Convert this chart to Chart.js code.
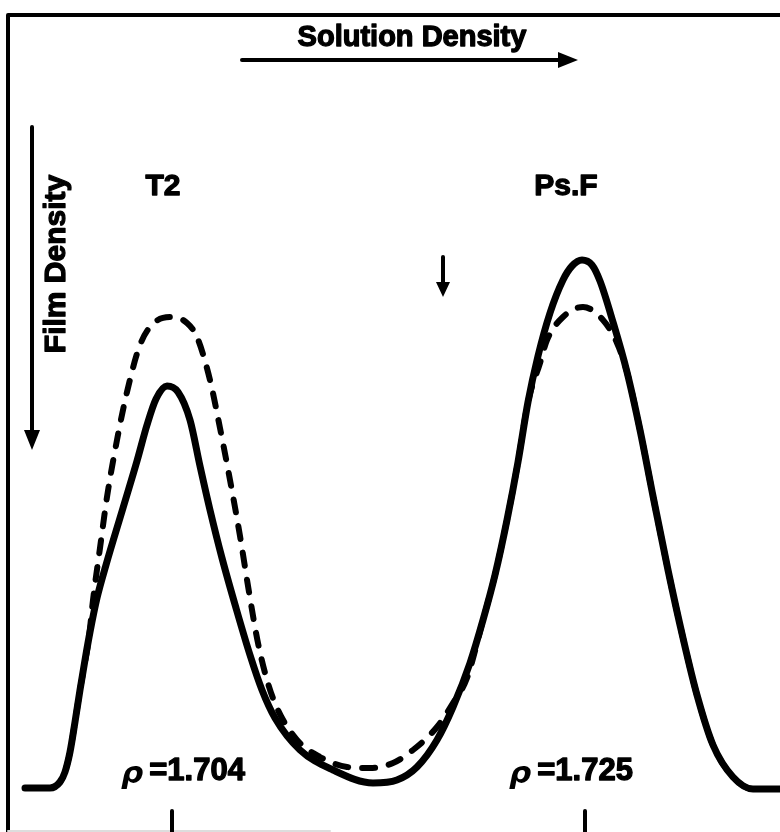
<!DOCTYPE html>
<html lang="en">

<head>
    <meta charset="UTF-8">
    <title>Solution Density / Film Density</title>
    <script src="https://cdn.jsdelivr.net/npm/chart.js"></script>
    <style>
        body {
            margin: 0;
            background-color: #ffffff;
        }

        .chart-box {
            width: 780px;
            height: 832px;
        }
    </style>
</head>

<body>
    <div class="chart-box">
        <canvas id="scanChart" width="780" height="832"></canvas>
    </div>

    <script>
        // Position along the tube (arbitrary units) and film density (arbitrary units)
        const solidPos = [1.7, 4.2, 5.2, 5.7, 6.2, 6.7, 7.2, 7.7, 8.2, 8.9, 9.8, 11.5, 12.9, 13.9, 14.8, 15.9, 17.0,
            18.2, 19.2, 20.2, 21.4, 22.8, 24.2, 25.4, 26.7, 29.2, 32.5, 36.5, 38.9, 40.9, 42.9, 44.5, 46.2, 47.5,
            48.7, 49.9, 51.0, 52.0, 53.0, 54.2, 55.5, 56.4, 57.4, 58.4, 59.2, 60.5, 61.9, 63.2, 64.5, 66.0, 67.5,
            68.9, 70.5, 72.5, 74.5, 78.2];
        const solidDen = [0.01, 0.01, 0.07, 0.17, 0.37, 0.67, 0.99, 1.29, 1.57, 1.91, 2.24, 2.81, 3.28, 3.64, 3.90,
            4.03, 3.97, 3.69, 3.23, 2.79, 2.31, 1.81, 1.34, 0.99, 0.71, 0.39, 0.19, 0.06, 0.09, 0.22, 0.49, 0.82,
            1.26, 1.69, 2.14, 2.69, 3.27, 3.87, 4.33, 4.76, 5.09, 5.23, 5.29, 5.24, 5.08, 4.67, 4.17, 3.59, 2.93,
            2.19, 1.51, 0.94, 0.44, 0.12, 0.00, 0.00];

        const dashPos = [1.7, 4.2, 5.2, 5.7, 6.2, 6.7, 7.2, 7.7, 8.1, 8.5, 9.2, 9.9, 10.9, 11.9, 13.2, 14.7, 16.5,
            17.9, 18.9, 20.2, 21.2, 22.2, 23.2, 24.1, 25.0, 25.9, 26.9, 28.9, 31.2, 33.9, 36.2, 38.5, 40.5, 42.9,
            44.5, 45.9, 47.5, 48.7, 49.9, 51.0, 52.0, 53.2, 53.9, 55.5, 57.5, 59.5, 60.9, 61.9, 63.2, 64.5, 66.0,
            67.5, 68.9, 70.5, 72.5, 74.5, 78.2];
        const dashDen = [0.01, 0.01, 0.07, 0.17, 0.37, 0.67, 0.99, 1.27, 1.52, 1.89, 2.41, 2.92, 3.49, 3.97, 4.44,
            4.67, 4.72, 4.66, 4.52, 4.09, 3.61, 3.09, 2.53, 1.97, 1.46, 1.09, 0.81, 0.49, 0.32, 0.22, 0.21, 0.26,
            0.39, 0.62, 0.86, 1.11, 1.69, 2.14, 2.69, 3.27, 3.87, 4.26, 4.49, 4.72, 4.82, 4.69, 4.46, 4.17, 3.59,
            2.93, 2.19, 1.51, 0.94, 0.44, 0.12, 0.00, 0.00];

        const peakNames = ['T2', 'Ps.F'];
        const peakNamePos = [15.5, 55.8];
        const rhoLabels = ['=1.704', '=1.725'];
        const rhoPos = [17.5, 56.3];
        const markerPos = [16.4, 57.7];

        const toPoints = (xs, ys) => xs.map((x, i) => ({ x: x, y: ys[i] }));

        const ink = '#000000';

        // bold lettering of the original is heavier than the installed bold
        const heavyText = (ctx, text, x, y) => {
            ctx.lineWidth = 1.3;
            ctx.strokeText(text, x, y);
            ctx.fillText(text, x, y);
        };

        // frame, arrows, labels and density markers
        const figureDecor = {
            id: 'figureDecor',
            afterDraw(chart) {
                const ctx = chart.ctx;
                const area = chart.chartArea;
                const xs = chart.scales.x;
                const ys = chart.scales.y;
                const px = v => xs.getPixelForValue(v);
                const py = v => ys.getPixelForValue(v);

                ctx.save();
                ctx.strokeStyle = ink;
                ctx.fillStyle = ink;
                ctx.lineCap = 'round';
                ctx.lineJoin = 'round';

                // frame
                ctx.lineWidth = 4;
                ctx.beginPath();
                ctx.moveTo(area.left, 832);
                ctx.lineTo(area.left, area.top);
                ctx.lineTo(780, area.top);
                ctx.stroke();
                ctx.strokeStyle = '#dddddd';
                ctx.lineWidth = 2;
                ctx.beginPath();
                ctx.moveTo(area.left, 831);
                ctx.lineTo(330, 831);
                ctx.stroke();
                ctx.strokeStyle = ink;

                const arrowHead = (x, y, dx, dy, len, half) => {
                    ctx.beginPath();
                    ctx.moveTo(x, y);
                    ctx.lineTo(x - dx * len - dy * half, y - dy * len + dx * half);
                    ctx.lineTo(x - dx * len + dy * half, y - dy * len - dx * half);
                    ctx.closePath();
                    ctx.fill();
                };

                // Solution Density arrow
                ctx.lineWidth = 4;
                const ay = py(7.29);
                ctx.beginPath();
                ctx.moveTo(px(23.4), ay);
                ctx.lineTo(px(55.4), ay);
                ctx.stroke();
                arrowHead(px(57.0), ay, 1, 0, 20, 8);

                // Film Density arrow
                const ax = px(2.4);
                ctx.beginPath();
                ctx.moveTo(ax, py(6.62));
                ctx.lineTo(ax, py(3.55));
                ctx.stroke();
                arrowHead(ax, py(3.39), 0, 1, 20, 8);

                // small arrow between the peaks
                const sx = px(43.5);
                ctx.beginPath();
                ctx.moveTo(sx, py(5.32));
                ctx.lineTo(sx, py(5.05));
                ctx.stroke();
                arrowHead(sx, py(4.92), 0, 1, 15, 7);

                // density markers at the bottom
                markerPos.forEach(m => {
                    ctx.beginPath();
                    ctx.moveTo(px(m), py(-0.22));
                    ctx.lineTo(px(m), 834);
                    ctx.stroke();
                });

                // texts
                ctx.textAlign = 'center';
                ctx.textBaseline = 'middle';
                ctx.font = 'bold 29px "Liberation Sans", Arial, sans-serif';
                heavyText(ctx, 'Solution Density', px(40.4), py(7.51));

                peakNames.forEach((name, i) => {
                    ctx.font = 'bold 30px "Liberation Sans", Arial, sans-serif';
                    heavyText(ctx, name, px(peakNamePos[i]), py(6.02));
                });

                ctx.save();
                ctx.translate(px(4.9), py(5.25));
                ctx.rotate(-Math.PI / 2);
                ctx.font = 'bold 30px "Liberation Sans", Arial, sans-serif';
                heavyText(ctx, 'Film Density', 0, 0);
                ctx.restore();

                rhoLabels.forEach((lab, i) => {
                    const cx = px(rhoPos[i]);
                    const cy = py(0.18);
                    ctx.font = 'bold 31px "Liberation Sans", Arial, sans-serif';
                    const w = ctx.measureText(lab).width;
                    ctx.font = 'italic bold 31px "DejaVu Sans", sans-serif';
                    const rw = ctx.measureText('ρ').width;
                    const left = cx - (w + rw + 6) / 2;
                    ctx.textAlign = 'left';
                    ctx.fillText('ρ', left, cy + 4);
                    ctx.font = 'bold 31px "Liberation Sans", Arial, sans-serif';
                    heavyText(ctx, lab, left + rw + 6, cy);
                    ctx.textAlign = 'center';
                });

                ctx.restore();
            }
        };

        new Chart(document.getElementById('scanChart'), {
            type: 'line',
            data: {
                datasets: [{
                    label: 'Dashed scan',
                    data: toPoints(dashPos, dashDen),
                    borderColor: ink,
                    borderWidth: 6,
                    borderDash: [13, 14],
                    borderCapStyle: 'round',
                    pointRadius: 0,
                    cubicInterpolationMode: 'monotone',
                    fill: false
                }, {
                    label: 'Solid scan',
                    data: toPoints(solidPos, solidDen),
                    borderColor: ink,
                    borderWidth: 7,
                    borderCapStyle: 'round',
                    borderJoinStyle: 'round',
                    pointRadius: 0,
                    cubicInterpolationMode: 'monotone',
                    fill: false
                }]
            },
            options: {
                responsive: false,
                animation: false,
                layout: {
                    padding: { left: 8, top: 15, right: 0, bottom: 0 }
                },
                plugins: {
                    legend: { display: false },
                    tooltip: { enabled: false }
                },
                scales: {
                    x: { type: 'linear', min: 0, max: 77.2, display: false },
                    y: { min: -0.43, max: 7.74, display: false }
                }
            },
            plugins: [figureDecor]
        });
    </script>
</body>

</html>
